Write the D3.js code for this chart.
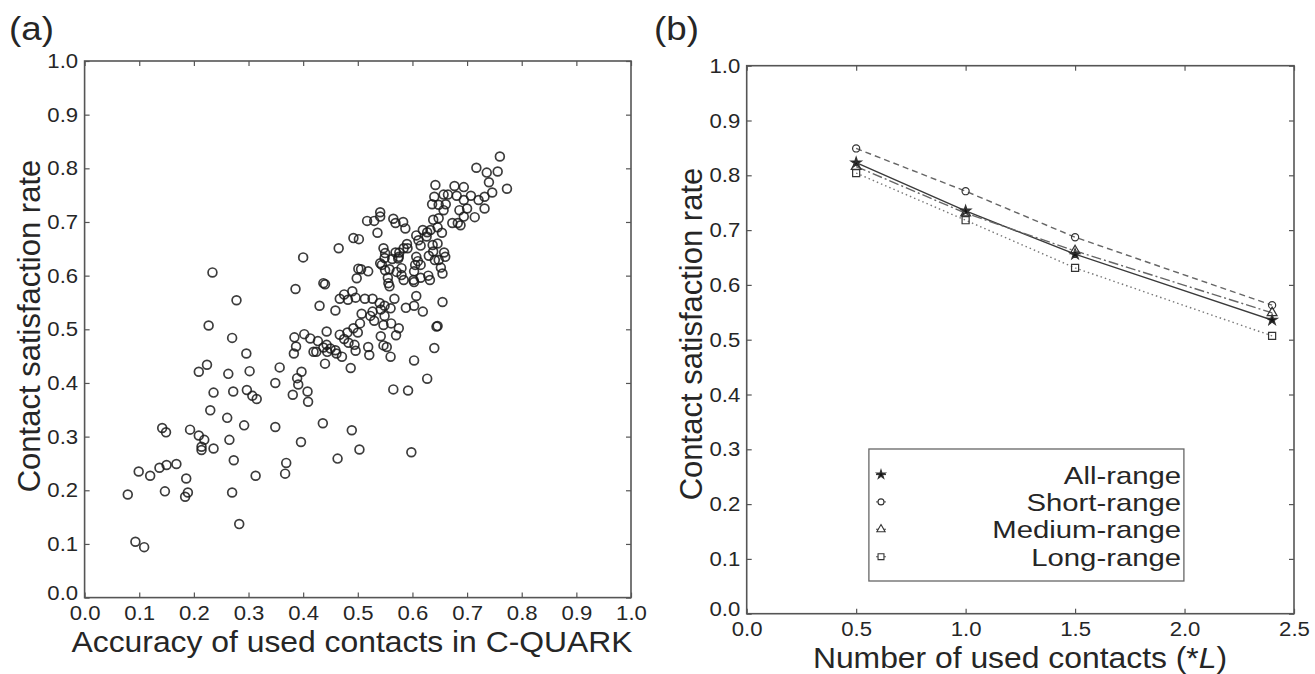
<!DOCTYPE html>
<html>
<head>
<meta charset="utf-8">
<script src="https://cdn.jsdelivr.net/npm/d3@7"></script>
<style>
  body { margin: 0; background: #fff; }
  text { font-family: "Liberation Sans", Arial, sans-serif; fill: #262626; }
</style>
</head>
<body>
<script>
// (a) scatter: accuracy of used contacts vs contact satisfaction rate
const accuracy = [
  0.760,0.717,0.736,0.756,0.740,0.773,0.746,0.732,0.707,0.721,0.732,0.714,0.700,0.694,0.694,0.677,0.681,0.665,0.657,0.642,
  0.640,0.648,0.636,0.661,0.657,0.686,0.694,0.683,0.673,0.688,0.648,0.638,0.654,0.646,0.633,0.619,0.627,0.607,0.615,0.637,
  0.646,0.658,0.638,0.630,0.648,0.652,0.629,0.615,0.607,0.610,0.603,0.590,0.584,0.576,0.569,0.575,0.563,0.549,0.547,0.544,
  0.558,0.555,0.580,0.584,0.603,0.615,0.565,0.569,0.583,0.587,0.541,0.541,0.536,0.517,0.530,0.492,0.502,0.501,0.506,0.519,
  0.498,0.465,0.400,0.386,0.234,0.437,0.440,0.278,0.430,0.459,0.467,0.475,0.482,0.490,0.496,0.513,0.527,0.540,0.549,0.560,
  0.567,0.542,0.549,0.527,0.507,0.523,0.530,0.547,0.561,0.588,0.603,0.607,0.619,0.655,0.575,0.570,0.542,0.547,0.553,0.504,
  0.492,0.500,0.481,0.467,0.475,0.483,0.494,0.496,0.519,0.521,0.560,0.443,0.427,0.443,0.437,0.450,0.459,0.424,0.419,0.444,
  0.461,0.471,0.440,0.487,0.413,0.402,0.384,0.387,0.383,0.357,0.349,0.397,0.389,0.391,0.381,0.408,0.409,0.296,0.302,0.263,
  0.209,0.224,0.227,0.270,0.236,0.272,0.297,0.307,0.315,0.230,0.261,0.292,0.265,0.273,0.270,0.283,0.313,0.349,0.369,0.367,
  0.396,0.436,0.463,0.489,0.503,0.598,0.565,0.592,0.603,0.627,0.640,0.644,0.646,0.209,0.219,0.214,0.214,0.236,0.193,0.142,
  0.149,0.099,0.120,0.137,0.150,0.168,0.147,0.186,0.189,0.184,0.079,0.093,0.109,0.550,0.574,0.556,0.558,0.580,0.605,0.602,
  0.632,0.655,0.660,0.641,0.626,0.611,0.591,0.541,0.550,0.571
];
const satisfaction = [
  0.822,0.801,0.792,0.794,0.774,0.762,0.755,0.747,0.749,0.741,0.725,0.709,0.725,0.741,0.765,0.767,0.749,0.751,0.751,0.769,
  0.747,0.732,0.733,0.733,0.722,0.722,0.710,0.698,0.698,0.694,0.707,0.704,0.680,0.690,0.685,0.685,0.681,0.675,0.656,0.657,
  0.660,0.643,0.645,0.637,0.629,0.615,0.600,0.620,0.635,0.627,0.608,0.659,0.651,0.643,0.643,0.635,0.631,0.633,0.651,0.620,
  0.612,0.596,0.614,0.592,0.588,0.596,0.706,0.698,0.700,0.688,0.718,0.710,0.680,0.702,0.702,0.670,0.668,0.613,0.612,0.608,
  0.595,0.651,0.634,0.575,0.606,0.586,0.584,0.554,0.544,0.535,0.557,0.565,0.555,0.571,0.559,0.557,0.557,0.549,0.544,0.539,
  0.557,0.537,0.525,0.533,0.529,0.525,0.516,0.508,0.511,0.540,0.544,0.562,0.533,0.551,0.502,0.489,0.487,0.470,0.467,0.511,
  0.502,0.494,0.494,0.490,0.482,0.475,0.471,0.460,0.467,0.452,0.449,0.496,0.478,0.471,0.466,0.464,0.461,0.458,0.458,0.458,
  0.455,0.449,0.436,0.428,0.483,0.491,0.485,0.468,0.455,0.429,0.400,0.421,0.409,0.397,0.378,0.384,0.365,0.455,0.422,0.417,
  0.421,0.434,0.507,0.484,0.382,0.384,0.387,0.376,0.370,0.349,0.335,0.321,0.294,0.256,0.196,0.137,0.227,0.318,0.251,0.231,
  0.290,0.325,0.259,0.312,0.276,0.271,0.388,0.386,0.442,0.408,0.465,0.505,0.506,0.302,0.294,0.281,0.275,0.278,0.313,0.316,
  0.308,0.235,0.227,0.242,0.247,0.249,0.198,0.222,0.196,0.188,0.192,0.104,0.094,0.642,0.632,0.586,0.580,0.601,0.620,0.592,
  0.592,0.604,0.635,0.629,0.673,0.666,0.651,0.623,0.610,0.607
];

// (b) satisfaction rate by number of used contacts (*L)
const usedContacts = [0.5, 1.0, 1.5, 2.4];
const allRange = [0.823, 0.735, 0.656, 0.536];
const shortRange = [0.849, 0.771, 0.687, 0.563];
const mediumRange = [0.816, 0.731, 0.662, 0.549];
const longRange = [0.804, 0.718, 0.631, 0.507];
const seriesNames = ["All-range", "Short-range", "Medium-range", "Long-range"];

const tickA = d3.range(0, 1.0001, 0.1);
const tickBx = [0, 0.5, 1.0, 1.5, 2.0, 2.5];

const W = 1315, H = 674;
const svg = d3.select("body").append("svg").attr("width", W).attr("height", H);

const SX = 1.08; // glyphs in the picture are a little wide

function label(g, x, y, str, size, anchor, sx) {
  return g.append("text")
    .attr("transform", `translate(${x},${y}) scale(${sx || SX},1)`)
    .attr("font-size", size)
    .attr("text-anchor", anchor)
    .text(str);
}

function frame(g, x, y, xTicks, yTicks) {
  const [x0, x1] = x.range(), [y0, y1] = y.range();
  const fmt = d3.format(".1f");
  const styleAxis = (a) => {
    a.select(".domain").remove();
    a.selectAll(".tick line").attr("stroke", "#555").attr("stroke-width", 1.2);
  };
  const styleText = (a) => a.selectAll(".tick text").attr("font-size", 20.5).attr("fill", "#262626")
    .attr("font-family", "Liberation Sans, Arial, sans-serif").attr("transform", `scale(${SX},1)`);
  g.append("g").attr("transform", `translate(0,${y0})`)
    .call(d3.axisBottom(x).tickValues(xTicks).tickFormat(fmt).tickSize(-5).tickPadding(8))
    .call(styleAxis)
    .call(styleText);
  g.append("g")
    .attr("transform", `translate(${x0},0)`)
    .call(d3.axisLeft(y).tickValues(yTicks).tickFormat(fmt).tickSize(-5).tickPadding(6))
    .call(styleAxis)
    .call(styleText)
    // the lowest label sits a little above its tick, clear of the x labels
    .call(a => a.selectAll(".tick text").filter((d) => d === 0).attr("y", -5));
  g.append("g").attr("transform", `translate(0,${y1})`)
    .call(d3.axisTop(x).tickValues(xTicks).tickFormat("").tickSize(-5))
    .call(styleAxis);
  g.append("g").attr("transform", `translate(${x1},0)`)
    .call(d3.axisRight(y).tickValues(yTicks).tickFormat("").tickSize(-5))
    .call(styleAxis);
  g.append("rect").attr("x", x0).attr("y", y1).attr("width", x1 - x0).attr("height", y0 - y1)
    .attr("fill", "none").attr("stroke", "#555").attr("stroke-width", 1.6);
}

// ---------- panel (a)
const ga = svg.append("g");
const xa = d3.scaleLinear().domain([0, 1]).range([84.6, 631]);
const ya = d3.scaleLinear().domain([0, 1]).range([597.6, 61]);

ga.append("g").selectAll("circle")
  .data(accuracy)
  .enter()
  .append("circle")
    .attr("cx", (d) => xa(d))
    .attr("cy", (d, i) => ya(satisfaction[i]))
    .attr("r", 4.4)
    .attr("fill", "none")
    .attr("stroke", "#1a1a1a")
    .attr("stroke-opacity", 0.85)
    .attr("stroke-width", 1.7);

frame(ga, xa, ya, tickA, tickA);

label(ga, 9, 40, "(a)", 34, "start");
label(ga, 352, 652, "Accuracy of used contacts in C-QUARK", 29.5, "middle");
ga.append("text")
  .attr("transform", "translate(40,326) rotate(-90)")
  .attr("font-size", 31).attr("text-anchor", "middle")
  .text("Contact satisfaction rate");

// ---------- panel (b)
const gb = svg.append("g");
const xb = d3.scaleLinear().domain([0, 2.5]).range([746.7, 1294]);
const yb = d3.scaleLinear().domain([0, 1]).range([613.7, 65.7]);

const series = [
  { name: seriesNames[0], values: allRange, dash: null, color: "#3a3a3a", symbol: d3.symbolStar, size: 34, fill: "#111" },
  { name: seriesNames[1], values: shortRange, dash: "6,4", color: "#666", symbol: d3.symbolCircle, size: 40, fill: "none" },
  { name: seriesNames[2], values: mediumRange, dash: "10,3,2,3", color: "#666", symbol: d3.symbolTriangle, size: 42, fill: "none" },
  { name: seriesNames[3], values: longRange, dash: "1.5,3", color: "#777", symbol: d3.symbolSquare, size: 50, fill: "none" }
];

const line = d3.line().x((d) => xb(d[0])).y((d) => yb(d[1]));

series.forEach((s) => {
  const pts = usedContacts.map((c, i) => [c, s.values[i]]);
  gb.append("path")
    .attr("d", line(pts))
    .attr("fill", "none")
    .attr("stroke", s.color)
    .attr("stroke-width", 1.4)
    .attr("stroke-dasharray", s.dash);
  gb.append("g").selectAll("path")
    .data(pts)
    .enter()
    .append("path")
      .attr("d", d3.symbol().type(s.symbol).size(s.size))
      .attr("transform", (d) => `translate(${xb(d[0])},${yb(d[1])})`)
      .attr("fill", s.fill)
      .attr("stroke", "#333")
      .attr("stroke-width", 1.2);
});

frame(gb, xb, yb, tickBx, tickA);

// legend
const lg = gb.append("g");
lg.append("rect").attr("x", 868.9).attr("y", 449).attr("width", 315).attr("height", 132)
  .attr("fill", "#fff").attr("stroke", "#666").attr("stroke-width", 1.3);
series.forEach((s, i) => {
  const yy = 474.5 + i * 27.4;
  lg.append("line").attr("x1", 876).attr("x2", 886).attr("y1", yy).attr("y2", yy)
    .attr("stroke", s.color).attr("stroke-width", 1.2);
  lg.append("path")
    .attr("d", d3.symbol().type(s.symbol).size(s.size * 0.7))
    .attr("transform", `translate(881,${yy})`)
    .attr("fill", s.fill === "none" ? "#fff" : s.fill)
    .attr("stroke", "#333").attr("stroke-width", 1.1);
  label(lg, 1181, yy + 9, s.name, 24.4, "end", 1.2);
});

label(gb, 654, 40, "(b)", 34, "start");
const xlab = gb.append("text")
  .attr("transform", `translate(1020,668) scale(${SX},1)`)
  .attr("font-size", 29.5).attr("text-anchor", "middle");
xlab.append("tspan").text("Number of used contacts (*");
xlab.append("tspan").attr("font-style", "italic").text("L");
xlab.append("tspan").text(")");
gb.append("text")
  .attr("transform", "translate(702,334) rotate(-90)")
  .attr("font-size", 31).attr("text-anchor", "middle")
  .text("Contact satisfaction rate");
</script>
</body>
</html>
